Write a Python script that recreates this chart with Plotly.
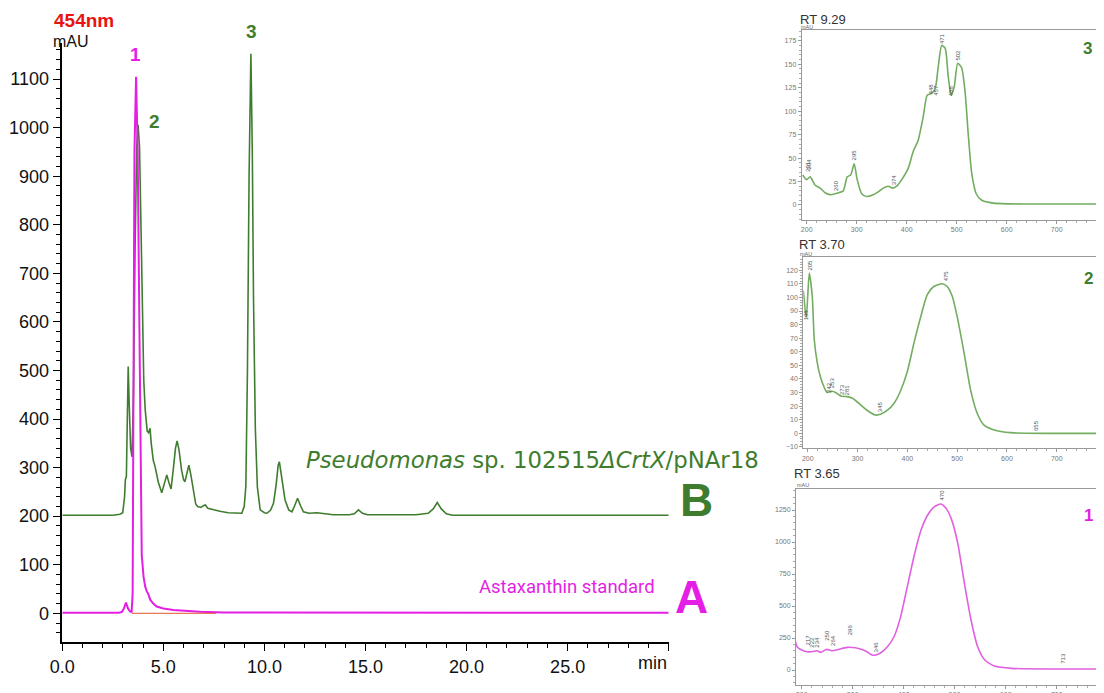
import plotly.graph_objects as go

# ---------------- data ----------------
# Chromatogram B (Pseudomonas sp., offset baseline ~200 mAU)
b_time = [0, 2.5, 2.85, 2.99, 3.08, 3.12, 3.17, 3.22, 3.26, 3.31, 3.38, 3.45, 3.52, 3.60, 3.68, 3.75,
          3.82, 3.90, 3.96, 4.03, 4.10, 4.20, 4.27, 4.34, 4.40, 4.50, 4.59, 4.75, 4.92, 5.05, 5.17,
          5.27, 5.38, 5.50, 5.60, 5.68, 5.78, 5.90, 6.00, 6.07, 6.15, 6.26, 6.36, 6.50, 6.60, 6.70,
          6.85, 7.00, 7.08, 7.20, 7.48, 7.8, 8.2, 8.47, 8.88, 9.00, 9.08, 9.16, 9.24, 9.33, 9.40,
          9.46, 9.55, 9.65, 9.79, 10.0, 10.12, 10.30, 10.45, 10.58, 10.68, 10.74, 10.82, 10.92,
          11.02, 11.20, 11.36, 11.48, 11.64, 11.78, 11.93, 12.2, 12.6, 13.0, 13.4, 14.2, 14.45,
          14.65, 14.85, 15.1, 17.5, 18.1, 18.35, 18.55, 18.75, 19.0, 19.3, 25, 30]
b_mau = [202, 202, 204, 207, 240, 275, 282, 380, 508, 430, 340, 322, 450, 750, 960, 1006,
         960, 780, 640, 480, 420, 375, 372, 381, 350, 315, 302, 270, 248, 265, 285,
         270, 256, 300, 340, 355, 335, 295, 275, 271, 285, 305, 285, 245, 225, 220,
         218, 222, 223, 216, 213, 210, 207, 207, 206, 220, 261, 500, 900, 1152, 950,
         645, 380, 260, 213, 207, 206, 212, 227, 265, 305, 312, 290, 255,
         233, 213, 209, 220, 237, 222, 209, 206, 207, 205, 203, 203, 205,
         213, 206, 203, 203, 206, 215, 228, 215, 205, 202, 202, 202]

# Chromatogram A (astaxanthin standard)
a_time = [0, 2.8, 2.95, 3.05, 3.15, 3.25, 3.35, 3.43, 3.48, 3.52, 3.57, 3.65, 3.73, 3.80, 3.86,
          3.93, 4.02, 4.10, 4.18, 4.25, 4.35, 4.50, 4.67, 5.0, 5.5, 6.0, 6.8, 8.0, 30]
a_mau = [1, 1, 3, 10, 22, 10, 4, 3, 40, 450, 950, 1105, 950, 650, 330,
         120, 75, 55, 45, 40, 28, 20, 14, 10, 7, 5, 3, 1.5, 1]

# integration baseline segment
base_time = [3.45, 7.6]
base_mau = [0, 0]

# UV-Vis spectrum, peak 3 (RT 9.29)
s3_nm = [192, 200, 207, 217, 227, 237, 247, 257, 273, 281, 288, 295, 301, 310, 320, 333, 343, 353,
         363, 372, 380, 390, 403, 413, 423, 433, 441, 450, 457, 463, 470, 477, 483, 489, 495,
         502, 510, 517, 523, 530, 539, 550, 573, 640, 810]
s3_mau = [32, 27, 30, 21, 18, 13, 11, 12, 15, 30, 32, 44, 27, 12, 9, 11, 14, 18,
          20, 18, 20, 27, 39, 57, 69, 94, 117, 119, 124, 147, 170, 167, 137, 117, 126,
          151, 146, 119, 76, 34, 12, 5, 2, 1, 1]
s3_lbl_nm = [201, 204, 260, 295, 374, 448, 457, 471, 488, 502]
s3_lbl_v = [41, 44, 21, 53, 27, 124, 122, 177, 122, 160]

# UV-Vis spectrum, peak 2 (RT 3.70)
s2_nm = [191, 197, 203, 209, 213, 219, 225, 234, 239, 249, 256, 266, 279, 289, 306, 319, 336, 346,
         360, 373, 386, 400, 413, 427, 440, 453, 470, 480, 490, 500, 514, 527, 540, 554, 574,
         607, 810]
s2_mau = [105, 85, 118, 101, 69, 52, 42, 33, 30, 31, 30, 27.5, 27, 26, 21, 17, 13.5, 14,
          17, 22, 31, 45.5, 66, 86, 102, 108, 110, 108, 101, 86, 59, 32, 15, 6, 2.5,
          0.5, 0]
s2_lbl_nm = [197, 204, 242, 249, 269, 278, 345, 477, 658]
s2_lbl_v = [87, 124, 34, 37, 32, 32, 20, 116, 6]
s2_lbl_txt = ["198", "205", "242", "253", "273", "281", "345", "475", "655"]

# UV-Vis spectrum, peak 1 (RT 3.65)
s1_nm = [187, 191, 200, 210, 220, 230, 237, 249, 259, 272, 289, 305, 318, 328, 338, 345, 355, 368,
         381, 394, 407, 420, 434, 447, 460, 473, 483, 493, 506, 519, 532, 545, 559, 578, 611,
         710, 810]
s1_mau = [234, 182, 156, 143, 143, 151, 138, 161, 151, 161, 177, 174, 161, 143, 117, 117, 135, 182,
          260, 417, 651, 885, 1094, 1211, 1276, 1297, 1263, 1185, 990, 677, 391, 182, 78, 31, 13,
          8, 8]
s1_lbl_nm = [213, 220, 230, 249, 261, 295, 345, 476, 713]
s1_lbl_v = [234, 221, 214, 273, 234, 312, 182, 1367, 91]
s1_lbl_txt = ["217", "222", "234", "250", "264", "296", "346", "470", "713"]

x_tick_vals = [0, 5, 10, 15, 20, 25, 30]
x_tick_text = ["0.0", "5.0", "10.0", "15.0", "20.0", "25.0", ""]
y_tick_vals = list(range(0, 1101, 100))

# ---------------- style ----------------
W, H = 1104, 693
OFF = 8  # page body margin
GREEN = "#3f7d2e"
LGREEN = "#72ad60"
MAG = "#e41ee4"
FONT = "Liberation Sans, Arial, sans-serif"


def px(x):
    return (x - OFF) / W


def py(y):
    return (H - (y - OFF)) / H


fig = go.Figure()

fig.add_trace(go.Scatter(x=b_time, y=b_mau, mode="lines", line=dict(color=GREEN, width=1.6),
                         xaxis="x", yaxis="y", showlegend=False, hoverinfo="skip"))
fig.add_trace(go.Scatter(x=a_time, y=a_mau, mode="lines", line=dict(color=MAG, width=2),
                         xaxis="x", yaxis="y", showlegend=False, hoverinfo="skip"))
fig.add_trace(go.Scatter(x=base_time, y=base_mau, mode="lines", line=dict(color="#e2552a", width=1),
                         xaxis="x", yaxis="y", showlegend=False, hoverinfo="skip"))

fig.add_trace(go.Scatter(x=s3_nm, y=s3_mau, mode="lines", line=dict(color=LGREEN, width=1.6, shape="spline", smoothing=0.6),
                         xaxis="x2", yaxis="y2", showlegend=False, hoverinfo="skip"))
fig.add_trace(go.Scatter(x=s2_nm, y=s2_mau, mode="lines", line=dict(color=LGREEN, width=1.6, shape="spline", smoothing=0.6),
                         xaxis="x3", yaxis="y3", showlegend=False, hoverinfo="skip"))
fig.add_trace(go.Scatter(x=s1_nm, y=s1_mau, mode="lines", line=dict(color="#e060e0", width=1.6, shape="spline", smoothing=0.6),
                         xaxis="x4", yaxis="y4", showlegend=False, hoverinfo="skip"))

main_x = dict(domain=[px(62.3), px(668.7)], range=[0, 30], anchor="y", automargin=False,
              tickmode="array", tickvals=x_tick_vals, ticktext=x_tick_text,
              showline=True, linecolor="black", linewidth=1.5, ticks="outside", ticklen=8,
              tickcolor="black", tickfont=dict(family=FONT, size=18, color="#111"),
              minor=dict(tickmode="linear", tick0=0, dtick=1, ticks="outside", ticklen=5, tickcolor="black"),
              showgrid=False, zeroline=False)
main_y = dict(domain=[py(641.7), py(42.7)], range=[-58.5, 1175], anchor="x", automargin=False,
              tickmode="array", tickvals=y_tick_vals,
              showline=True, linecolor="black", linewidth=1.5, ticks="outside", ticklen=8,
              tickcolor="black", tickfont=dict(family=FONT, size=18, color="#111"),
              minor=dict(tickmode="linear", tick0=0, dtick=20, ticks="outside", ticklen=5, tickcolor="black"),
              showgrid=False, zeroline=False)

INS_FONT = dict(family=FONT, size=7, color="#777")


def inset_axes(xdom, ydom, xr, yr, ydt, ydminor, anchor_x, anchor_y):
    xa = dict(domain=xdom, range=xr, anchor=anchor_y, automargin=False, showline=True, linecolor="#999", linewidth=1,
              mirror=True, ticks="outside", ticklen=3, tickcolor="#999", tickmode="linear", tick0=200,
              dtick=100, tickfont=INS_FONT, showgrid=False, zeroline=False,
              minor=dict(tickmode="linear", tick0=200, dtick=20, ticks="outside", ticklen=2, tickcolor="#aaa"))
    ya = dict(domain=ydom, range=yr, anchor=anchor_x, automargin=False, showline=True, linecolor="#999", linewidth=1,
              ticks="outside", ticklen=3, tickcolor="#999", tickmode="linear", tick0=0, dtick=ydt,
              tickfont=INS_FONT, showgrid=False, zeroline=False,
              minor=dict(tickmode="linear", tick0=0, dtick=ydminor, ticks="outside", ticklen=2, tickcolor="#aaa"))
    return xa, ya


# insets run past the right edge of the window (as in the reference)
x2, y2 = inset_axes([px(801.7), 1.0], [py(220), py(30)], [190, 810.6], [-16, 186.5], 25, 5, "x2", "y2")
x3, y3 = inset_axes([px(803.3), 1.0], [py(448.3), py(257.3)], [191, 811], [-11, 129.5], 10, 2, "x3", "y3")
x4, y4 = inset_axes([px(796), 1.0], [py(685), py(489.3)], [188.8, 808.4], [-117, 1412], 250, 50, "x4", "y4")

annotations = []


def ann(text, x, y, size, color, bold=False, xanchor="center", yanchor="middle", family=FONT, **kw):
    t = f"<b>{text}</b>" if bold else text
    annotations.append(dict(text=t, x=x, y=y, xref="paper", yref="paper", showarrow=False,
                            xanchor=xanchor, yanchor=yanchor,
                            font=dict(family=family, size=size, color=color), **kw))


ann("454nm", px(52), py(21), 19, "#e8140f", bold=True, xanchor="left")
ann("mAU", px(51), py(41), 16, "#111", xanchor="left")
ann("min", px(669), py(663), 18, "#111", xanchor="right")
ann("1", px(135), py(55), 19, MAG, bold=True)
ann("2", px(154), py(122), 19, GREEN, bold=True)
ann("3", px(251), py(31), 19, GREEN, bold=True)
ann("<i>Pseudomonas</i> sp. 102515<i>ΔCrtX</i>/pNAr18", px(304), py(460), 22.8, GREEN, xanchor="left",
    family="DejaVu Sans, sans-serif")
ann("B", px(696), py(500), 46, GREEN, bold=True)
ann("Astaxanthin standard", px(657), py(587), 18.5, MAG, xanchor="right",
    family="Roboto, sans-serif")
ann("A", px(691), py(597), 46, MAG, bold=True)

# inset titles
ann("RT 9.29", px(798), py(19), 13, "#333", xanchor="left")
ann("RT 3.70", px(797), py(244), 13, "#333", xanchor="left")
ann("RT 3.65", px(792), py(474), 13, "#333", xanchor="left")
ann("mAU", px(799), py(27), 5.5, "#666", xanchor="left")
ann("mAU", px(798), py(254), 5.5, "#666", xanchor="left")
ann("mAU", px(795), py(485), 5.5, "#666", xanchor="left")
ann("3", px(1087), py(48), 17, GREEN, bold=True)
ann("2", px(1088), py(278), 17, GREEN, bold=True)
ann("1", px(1088), py(515), 17, MAG, bold=True)

lbl_font = dict(family=FONT, size=6, color="#555")
for nm, v in zip(s3_lbl_nm, s3_lbl_v):
    annotations.append(dict(text=str(nm), x=nm, y=v, xref="x2", yref="y2", showarrow=False,
                            textangle=-90, font=lbl_font))
for nm, v, t in zip(s2_lbl_nm, s2_lbl_v, s2_lbl_txt):
    annotations.append(dict(text=t, x=nm, y=v, xref="x3", yref="y3", showarrow=False,
                            textangle=-90, font=lbl_font))
for nm, v, t in zip(s1_lbl_nm, s1_lbl_v, s1_lbl_txt):
    annotations.append(dict(text=t, x=nm, y=v, xref="x4", yref="y4", showarrow=False,
                            textangle=-90, font=lbl_font))

fig.update_layout(
    width=W, height=H, margin=dict(l=0, r=0, t=0, b=0),
    paper_bgcolor="white", plot_bgcolor="white",
    xaxis=main_x, yaxis=main_y,
    xaxis2=x2, yaxis2=y2, xaxis3=x3, yaxis3=y3, xaxis4=x4, yaxis4=y4,
    annotations=annotations, showlegend=False,
)

fig.write_html("out.html")
